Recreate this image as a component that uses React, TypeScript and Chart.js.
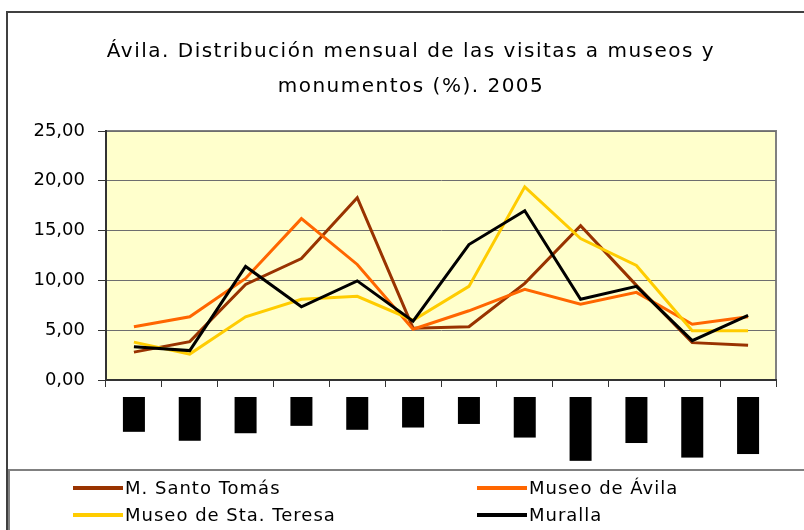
import React, { useEffect, useRef } from "react";
import { Chart, registerables } from "chart.js";

Chart.register(...registerables);

const months = ["Enero", "Febrero", "Marzo", "Abril", "Mayo", "Junio", "Julio", "Agosto", "Septiembre", "Octubre", "Noviembre", "Diciembre"];
const santoTomas = [2.8, 3.85, 9.6, 12.2, 18.3, 5.2, 5.35, 9.7, 15.5, 9.5, 3.75, 3.5];
const museoAvila = [5.35, 6.35, 10.2, 16.2, 11.6, 5.1, 6.95, 9.1, 7.6, 8.8, 5.6, 6.35];
const staTeresa = [3.8, 2.6, 6.35, 8.1, 8.4, 6.0, 9.4, 19.4, 14.2, 11.5, 4.95, 4.95];
const muralla = [3.35, 2.95, 11.4, 7.35, 9.95, 5.9, 13.6, 17.0, 8.1, 9.4, 3.95, 6.5];
const seriesNames = ["M. Santo Tomás", "Museo de Ávila", "Museo de Sta. Teresa", "Muralla"];
const seriesColors = ["#993300", "#FF6600", "#FFCC00", "#000000"];
const yMin = 0;
const yMax = 25;
const yStep = 5;
const titleLines = ["Ávila. Distribución mensual de las visitas a museos y", "monumentos (%). 2005"];

const FONT = '"DejaVu Sans", Verdana, sans-serif';

const framePlugin = {
  id: "excelFrame",
  beforeDraw(chart: any) {
    const { ctx, chartArea: a, width, height } = chart;
    ctx.save();
    ctx.fillStyle = "#ffffff";
    ctx.fillRect(0, 0, width, height);
    ctx.fillStyle = "#FFFFCC";
    ctx.fillRect(a.left, a.top, a.right - a.left, a.bottom - a.top);
    ctx.strokeStyle = "#808080";
    ctx.lineWidth = 2;
    ctx.beginPath();
    ctx.moveTo(a.left, a.top);
    ctx.lineTo(a.right, a.top);
    ctx.lineTo(a.right, a.bottom);
    ctx.stroke();
    ctx.restore();
  },
  afterDraw(chart: any) {
    const { ctx, width, height } = chart;
    ctx.save();
    // outer frame
    ctx.strokeStyle = "#404040";
    ctx.lineWidth = 2;
    ctx.beginPath();
    ctx.moveTo(7, height);
    ctx.lineTo(7, 12);
    ctx.lineTo(width, 12);
    ctx.stroke();
    // legend box
    ctx.strokeStyle = "#808080";
    ctx.beginPath();
    ctx.moveTo(9, height);
    ctx.lineTo(9, 470);
    ctx.lineTo(width, 470);
    ctx.stroke();

    // title
    ctx.fillStyle = "#000";
    ctx.font = `20px ${FONT}`;
    (ctx as any).letterSpacing = "1.5px";
    ctx.textAlign = "center";
    ctx.textBaseline = "alphabetic";
    ctx.fillText(titleLines[0], 411, 57);
    ctx.fillText(titleLines[1], 411, 92);

    // legend
    ctx.font = `18px ${FONT}`;
    (ctx as any).letterSpacing = "1px";
    ctx.textAlign = "left";
    const cols = [73, 477];
    const rows = [488, 515];
    chart.data.datasets.forEach((ds: any, i: number) => {
      const x = cols[i % 2];
      const y = rows[Math.floor(i / 2)];
      ctx.strokeStyle = ds.borderColor;
      ctx.lineWidth = 4;
      ctx.beginPath();
      ctx.moveTo(x, y);
      ctx.lineTo(x + 50, y);
      ctx.stroke();
      ctx.fillStyle = "#000";
      ctx.fillText(ds.label, x + 52, y + 6);
    });
    ctx.restore();
  },
};

export default function App() {
  const ref = useRef<HTMLCanvasElement>(null);
  useEffect(() => {
    const allSeries = [santoTomas, museoAvila, staTeresa, muralla];
    const chart = new Chart(ref.current as HTMLCanvasElement, {
      type: "line",
      data: {
        labels: months,
        datasets: allSeries.map((values, i) => ({
          label: seriesNames[i],
          data: values,
          borderColor: seriesColors[i],
          backgroundColor: seriesColors[i],
          borderWidth: 3,
          pointRadius: 0,
          tension: 0,
          fill: false,
          order: allSeries.length - i,
        })),
      },
      options: {
        responsive: false,
        animation: false,
        devicePixelRatio: 1,
        layout: { padding: { top: 131, right: 28, bottom: 0, left: 0 } },
        plugins: {
          legend: { display: false },
          tooltip: { enabled: false },
          title: { display: false },
        },
        scales: {
          x: {
            type: "category",
            offset: true,
            grid: {
              display: true,
              drawOnChartArea: false,
              drawTicks: true,
              tickLength: 7,
              tickColor: "#333",
              offset: true,
            },
            border: { display: true, color: "#333", width: 2 },
            ticks: {
              autoSkip: false,
              maxRotation: 90,
              minRotation: 90,
              color: "#000",
              font: { family: FONT, size: 10 },
              padding: 13,
              showLabelBackdrop: true,
              backdropColor: "#000",
              backdropPadding: { top: 5, bottom: 5, left: 3, right: 3 },
              labelOffset: -6,
            },
            afterFit(s: any) {
              s.height = 150;
              s.paddingLeft = 0;
              s.paddingRight = 0;
            },
          },
          y: {
            min: yMin,
            max: yMax,
            ticks: {
              stepSize: yStep,
              color: "#000",
              font: { family: FONT, size: 18 },
              padding: 13,
              callback: (v: any) => Number(v).toFixed(2).replace(".", ","),
            },
            grid: {
              color: "#6e6e6e",
              lineWidth: 1,
              tickLength: 8,
              tickColor: "#333",
              drawTicks: true,
            },
            border: { color: "#333", width: 2 },
            afterFit(s: any) {
              s.width = 106;
              s.paddingTop = 0;
              s.paddingBottom = 0;
            },
          },
        },
      },
      plugins: [framePlugin],
    } as any);
    return () => chart.destroy();
  }, []);

  return (
    <div style={{ position: "absolute", left: 0, top: 0, width: 804, height: 530 }}>
      <canvas ref={ref} width={804} height={530} style={{ display: "block" }} />
    </div>
  );
}
